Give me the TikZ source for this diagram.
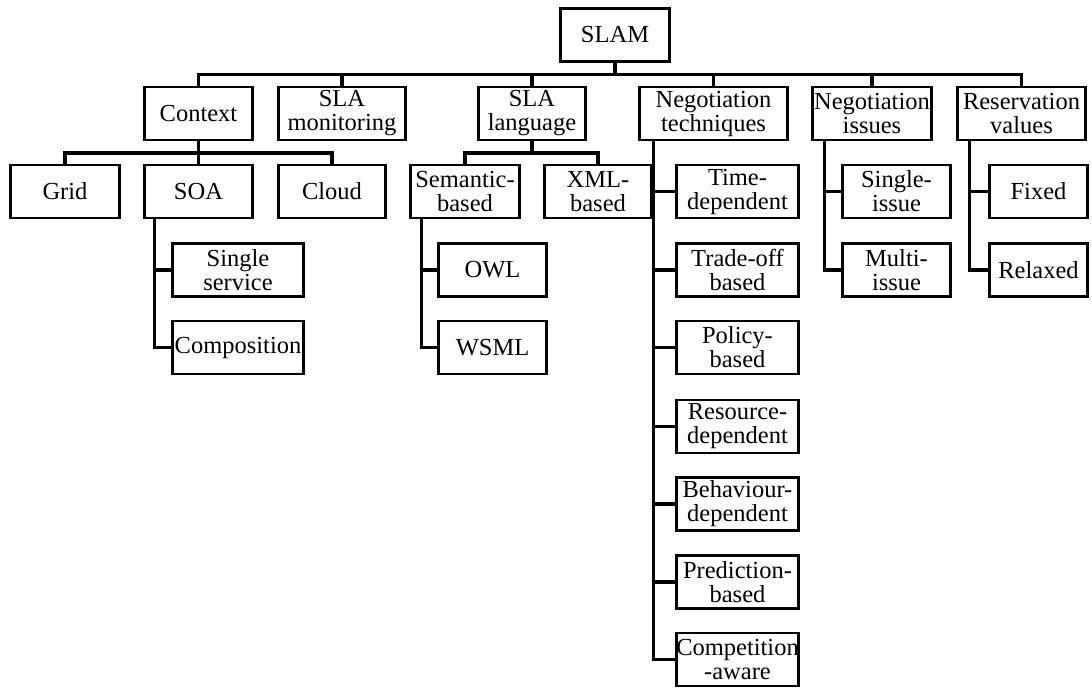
\documentclass[tikz,border=0pt]{standalone}
\usepackage{fontspec}
\setmainfont{Liberation Serif}
\begin{document}
\begin{tikzpicture}[x=1pt,y=-1pt,
  box/.style={draw, line width=2.8pt, inner sep=0pt, align=center,
    font=\fontsize{24.5}{24}\selectfont, minimum height=53pt},
  link/.style={line width=3.2pt},
]
\useasboundingbox (0,0) rectangle (1092,688);

% root
\node[box, minimum width=109pt] (slam) at (615,35) {SLAM};

% first level
\node[box, minimum width=108pt] (ctx)    at (198.5,113.5) {Context};
\node[box, minimum width=127pt] (mon)    at (342,113.5)   {SLA\\monitoring};
\node[box, minimum width=107pt] (lang)   at (532,113.5)   {SLA\\language};
\node[box, minimum width=148pt] (tech)   at (713.5,113.5) {Negotiation\\techniques};
\node[box, minimum width=119pt] (issues) at (872,113.5)   {Negotiation\\issues};
\node[box, minimum width=128pt] (resv)   at (1021.5,113.5){Reservation\\values};

% second level, horizontal groups
\node[box, minimum width=109pt] (grid)  at (65,191.5)    {Grid};
\node[box, minimum width=108pt] (soa)   at (198.5,191.5) {SOA};
\node[box, minimum width=107pt] (cloud) at (332,191.5)   {Cloud};
\node[box, minimum width=109pt] (sem)   at (465,191.5)   {Semantic-\\based};
\node[box, minimum width=107pt] (xml)   at (598,191.5)   {XML-\\based};

% SOA branch
\node[box, minimum width=131pt] (single) at (238,270)   {Single\\service};
\node[box, minimum width=131pt] (comp)   at (238,347.5) {Composition};

% semantic branch
\node[box, minimum width=108pt] (owl)  at (492.5,270)   {OWL};
\node[box, minimum width=108pt] (wsml) at (492.5,347.5) {WSML};

% negotiation techniques
\node[box, minimum width=122pt] (timed)   at (737.5,191.5) {Time-\\dependent};
\node[box, minimum width=122pt] (trade)   at (737.5,270)   {Trade-off\\based};
\node[box, minimum width=122pt] (policy)  at (737.5,347.5) {Policy-\\based};
\node[box, minimum width=122pt] (resrc)   at (737.5,426.5) {Resource-\\dependent};
\node[box, minimum width=122pt] (behav)   at (737.5,504)   {Behaviour-\\dependent};
\node[box, minimum width=122pt] (predict) at (737.5,582)   {Prediction-\\based};
\node[box, minimum width=122pt] (compet)  at (737.5,659.5) {Competition\\-aware};

% negotiation issues
\node[box, minimum width=108pt] (sissue) at (896.5,191.5) {Single-\\issue};
\node[box, minimum width=108pt] (missue) at (896.5,270)   {Multi-\\issue};

% reservation values
\node[box, minimum width=98pt] (fixed)   at (1038.5,191.5) {Fixed};
\node[box, minimum width=98pt] (relaxed) at (1038.5,270)   {Relaxed};

% root bar
\foreach \c in {ctx,mon,lang,tech,issues,resv}
  \draw[link] (slam.south) -- ++(0,11.5) -| (\c.north);

% context bar
\foreach \c in {grid,soa,cloud}
  \draw[link] (ctx.south) -- ++(0,11.5) -| (\c.north);

% language bar
\foreach \c in {sem,xml}
  \draw[link] (lang.south) -- ++(0,11.5) -| (\c.north);

% vertical trunks
\foreach \c in {single,comp}
  \draw[link] ([xshift=11pt]soa.south west) |- (\c.west);
\foreach \c in {owl,wsml}
  \draw[link] ([xshift=12.5pt]sem.south west) |- (\c.west);
\foreach \c in {timed,trade,policy,resrc,behav,predict,compet}
  \draw[link] ([xshift=15pt]tech.south west) |- (\c.west);
\foreach \c in {sissue,missue}
  \draw[link] ([xshift=13.5pt]issues.south west) |- (\c.west);
\foreach \c in {fixed,relaxed}
  \draw[link] ([xshift=13pt]resv.south west) |- (\c.west);
\end{tikzpicture}
\end{document}
